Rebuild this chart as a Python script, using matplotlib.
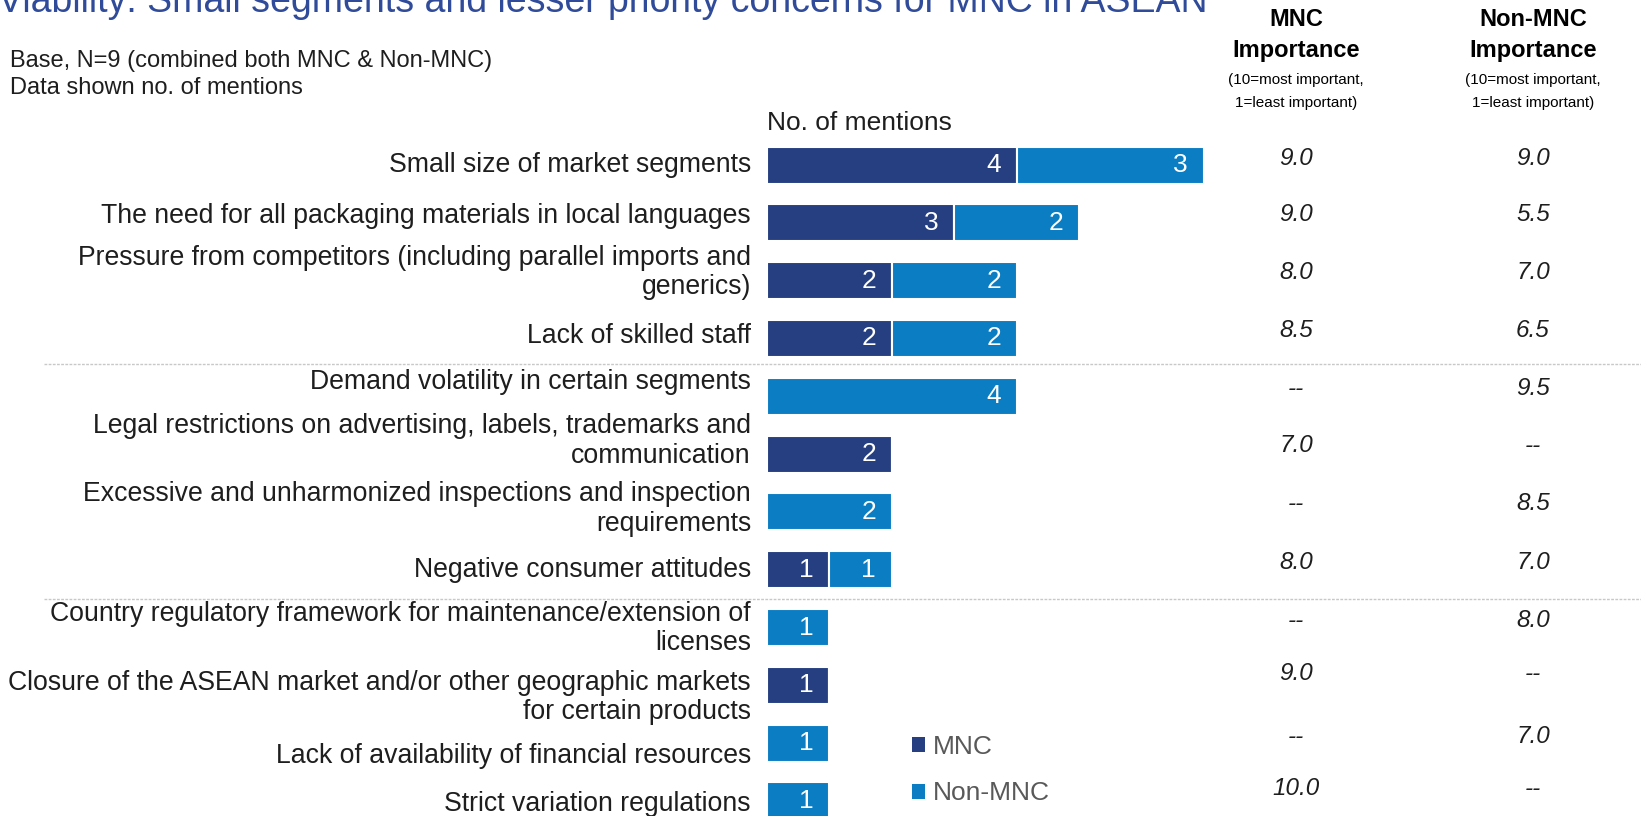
import matplotlib
matplotlib.use("Agg")
import matplotlib.pyplot as plt
from matplotlib.patches import Patch
from matplotlib.transforms import blended_transform_factory

plt.rcParams['font.family'] = ['Liberation Sans', 'DejaVu Sans']

categories = [
    "Small size of market segments",
    "The need for all packaging materials in local languages",
    "Pressure from competitors (including parallel imports and\ngenerics)",
    "Lack of skilled staff",
    "Demand volatility in certain segments",
    "Legal restrictions on advertising, labels, trademarks and\ncommunication",
    "Excessive and unharmonized inspections and inspection\nrequirements",
    "Negative consumer attitudes",
    "Country regulatory framework for maintenance/extension of\nlicenses",
    "Closure of the ASEAN market and/or other geographic markets\nfor certain products",
    "Lack of availability of financial resources",
    "Strict variation regulations",
]
mnc_mentions = [4, 3, 2, 2, 0, 2, 0, 1, 0, 1, 0, 0]
non_mnc_mentions = [3, 2, 2, 2, 4, 0, 2, 1, 1, 0, 1, 1]
mnc_importance = ["9.0", "9.0", "8.0", "8.5", "--", "7.0", "--", "8.0", "--", "9.0", "--", "10.0"]
non_mnc_importance = ["9.0", "5.5", "7.0", "6.5", "9.5", "--", "8.5", "7.0", "8.0", "--", "7.0", "--"]
series_names = ["MNC", "Non-MNC"]
title_text = "Viability: Small segments and lesser priority concerns for MNC in ASEAN"

# layout: vertical offsets (px) of the label text boxes relative to each bar row
label_shift_px = [0, -7, -8, -2, -14, -13, -3, 0, 1, 12, 13, 3]
value_shift_px = [-7, -8, -8, -8, -8, -9, -8, -7, -7, -12, -7, -12]

NAVY = "#253F80"
BLUE = "#0A7DC3"
TXT = "#1E1E1E"

W, H = 1641, 816
fig = plt.figure(figsize=(W / 100, H / 100), dpi=100)

x0_px = 767
unit_px = 62.4
row0_px = 165
row_step = 57.8
ax = fig.add_axes([x0_px / W, 0, (W - x0_px) / W, 1])
ax.set_xlim(0, (W - x0_px) / unit_px)
ax.set_ylim(11 + (H - 801) / row_step, -row0_px / row_step)
for s in ax.spines.values():
    s.set_visible(False)
ax.set_xticks([])
ax.set_yticks([])

y = list(range(len(categories)))
bh = 0.64
ax.barh(y, mnc_mentions, height=bh, color=NAVY, edgecolor="white", linewidth=1.5)
ax.barh(y, non_mnc_mentions, left=mnc_mentions, height=bh, color=BLUE, edgecolor="white", linewidth=1.5)

for i in y:
    m, n = mnc_mentions[i], non_mnc_mentions[i]
    if m > 0:
        ax.text(m - 0.37, i, str(m), ha="center", va="center", color="white", fontsize=19)
    if n > 0:
        ax.text(m + n - 0.37, i, str(n), ha="center", va="center", color="white", fontsize=19)

# category labels
for i in y:
    ax.text(-16 / unit_px, i + label_shift_px[i] / row_step, categories[i], ha="right", va="center",
            multialignment="right", fontsize=19.2, color=TXT, linespacing=1.17)

# importance columns
col1 = (1296 - x0_px) / unit_px
col2 = (1533 - x0_px) / unit_px
for i in y:
    yy = i + value_shift_px[i] / row_step
    ax.text(col1, yy, mnc_importance[i], ha="center", va="center", fontsize=17.5,
            style="italic", color=TXT)
    ax.text(col2, yy, non_mnc_importance[i], ha="center", va="center", fontsize=17.5,
            style="italic", color=TXT)

# headers
for xc, name in [(1296, "MNC"), (1533, "Non-MNC")]:
    fx = xc / W
    fig.text(fx, 1 - 19 / H, name, ha="center", va="center", fontsize=17, fontweight="bold", color="black")
    fig.text(fx, 1 - 50 / H, "Importance", ha="center", va="center", fontsize=17, fontweight="bold", color="black")
    fig.text(fx, 1 - 80 / H, "(10=most important,", ha="center", va="center", fontsize=11, color="black")
    fig.text(fx, 1 - 103 / H, "1=least important)", ha="center", va="center", fontsize=11, color="black")

# notes
fig.text(10 / W, 1 - 61 / H, "Base, N=9 (combined both MNC & Non-MNC)", ha="left", va="center", fontsize=17, color=TXT)
fig.text(10 / W, 1 - 88 / H, "Data shown no. of mentions", ha="left", va="center", fontsize=17, color=TXT)
ax.text(0, (123 - row0_px) / row_step, "No. of mentions", ha="left", va="center", fontsize=19, color=TXT)

# title (mostly cut off at the top edge)
fig.text(-2 / W, 1 - 12 / H, title_text, ha="left", va="baseline", fontsize=27, color="#2F4B9A")

# dashed separators
tr = blended_transform_factory(fig.transFigure, ax.transData)
for ys in [3.45, 7.5]:
    ax.plot([44 / W, 1.0], [ys, ys], transform=tr, color="#C8C8C8", linestyle=(0, (2, 1)),
            linewidth=1.0, clip_on=False)

# legend
handles = [Patch(facecolor=NAVY, edgecolor="none"), Patch(facecolor=BLUE, edgecolor="none")]
leg = fig.legend(handles, series_names, loc="upper left", bbox_to_anchor=(912 / W, 1 - 735 / H),
                 frameon=False, fontsize=19, handlelength=0.5, handleheight=0.5,
                 handletextpad=0.3, labelspacing=0.85, borderaxespad=0, borderpad=0)
for t in leg.get_texts():
    t.set_color("#595959")

fig.savefig("out.png", dpi=100)
